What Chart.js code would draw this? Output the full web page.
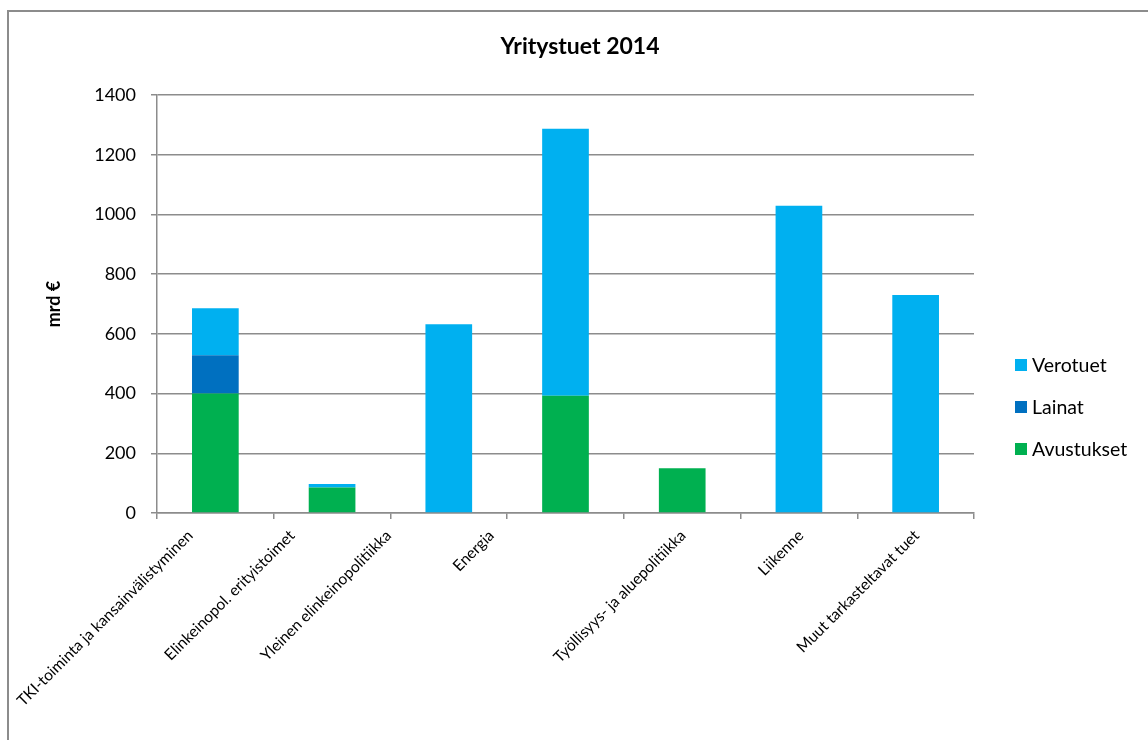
<!DOCTYPE html>
<html><head><meta charset="utf-8">
<script src="https://cdn.jsdelivr.net/npm/chart.js@4/dist/chart.umd.min.js"></script>
<style>
html,body{margin:0;padding:0;background:#fff;}
#wrap{position:relative;width:1148px;height:740px;overflow:hidden;}
#frame{position:absolute;left:7px;top:10px;width:1200px;height:800px;border-left:2px solid #8c8c8c;border-top:2px solid #8c8c8c;}
#c{position:absolute;left:0;top:0;}
</style></head><body>
<div id="wrap"><div id="frame"></div><canvas id="c" width="1148" height="740"></canvas></div>
<script>
const categories = ['TKI-toiminta ja kansainvälistyminen', 'Elinkeinopol. erityistoimet', 'Yleinen elinkeinopolitiikka', 'Energia', 'Työllisyys- ja aluepolitiikka', 'Liikenne', 'Muut tarkasteltavat tuet'];
const avustukset = [400, 85, null, 393, 150, null, null];
const lainat = [128, null, null, null, null, null, null];
const verotuet = [158, 12, 632, 894, null, 1029, 730];
const seriesNames = ['Avustukset', 'Lainat', 'Verotuet'];
const chartTitle = 'Yritystuet 2014';
const yTitle = 'mrd €';

const FONT = 'Lato';
const GRID = '#8c8c8c';
const labelNudge = [-25, -40, -60, -74, 1, 2, 1];

const xLabelPlugin = {
  id: 'xLabels',
  afterDraw(chart) {
    const ctx = chart.ctx, xs = chart.scales.x;
    ctx.save();
    ctx.font = '15.5px ' + FONT;
    ctx.fillStyle = '#000';
    ctx.textAlign = 'right';
    ctx.textBaseline = 'middle';
    chart.data.labels.forEach((lab, i) => {
      const x = xs.getPixelForValue(i) + labelNudge[i];
      const y = xs.top + 20;
      ctx.save();
      ctx.translate(x, y);
      ctx.rotate(-Math.PI / 4);
      ctx.fillText(lab, 0, 0);
      ctx.restore();
    });
    ctx.restore();
  }
};

const legendPlugin = {
  id: 'sideLegend',
  afterDraw(chart) {
    const ctx = chart.ctx;
    const ds = chart.data.datasets.slice().reverse();
    ctx.save();
    ctx.font = '19.5px ' + FONT;
    ctx.textBaseline = 'middle';
    ctx.textAlign = 'left';
    ds.forEach((d, i) => {
      const y = 365 + i * 42;
      ctx.fillStyle = d.backgroundColor;
      ctx.fillRect(1015, y - 6, 12, 12);
      ctx.fillStyle = '#000';
      ctx.fillText(d.label, 1032, y + 1);
    });
    ctx.restore();
  }
};

new Chart(document.getElementById('c'), {
  type: 'bar',
  data: {
    labels: categories,
    datasets: [
      { label: seriesNames[0], data: avustukset, backgroundColor: '#00B050' },
      { label: seriesNames[1], data: lainat, backgroundColor: '#0070C0' },
      { label: seriesNames[2], data: verotuet, backgroundColor: '#00B0F0' }
    ]
  },
  options: {
    responsive: false,
    devicePixelRatio: 1,
    animation: false,
    barPercentage: 0.4,
    categoryPercentage: 1.0,
    layout: { padding: { left: 12, right: 0, top: 0, bottom: 0 } },
    plugins: {
      legend: { display: false },
      tooltip: { enabled: false },
      title: {
        display: true, text: chartTitle, color: '#000',
        font: { family: FONT, size: 23, weight: 'bold' },
        padding: { top: 33.2, bottom: 34.2 }
      }
    },
    scales: {
      x: {
        stacked: true,
        grid: { offset: true, drawOnChartArea: false, drawTicks: true, tickLength: 6, color: GRID, lineWidth: 1.5 },
        border: { display: true, color: GRID, width: 1.5 },
        ticks: { display: false },
        afterFit(s) { s.height = 227; }
      },
      y: {
        stacked: true, min: 0, max: 1400,
        ticks: { stepSize: 200, color: '#000', font: { family: FONT, size: 18 }, padding: 15,
                 callback: (v) => String(v) },
        grid: { color: GRID, lineWidth: 1.5, tickLength: 6, drawTicks: true },
        border: { display: true, color: GRID, width: 1.5 },
        title: { display: true, text: yTitle, color: '#000', font: { family: FONT, size: 18, weight: 'bold' }, padding: { top: 31, bottom: 0 } },
        afterFit(s) { s.width = 145; }
      },
      legendSpace: {
        type: 'linear', position: 'right', display: true,
        grid: { display: false, drawTicks: false },
        border: { display: false },
        ticks: { display: false },
        afterFit(s) { s.width = 174; }
      }
    }
  },
  plugins: [xLabelPlugin, legendPlugin]
});
</script>
</body></html>
